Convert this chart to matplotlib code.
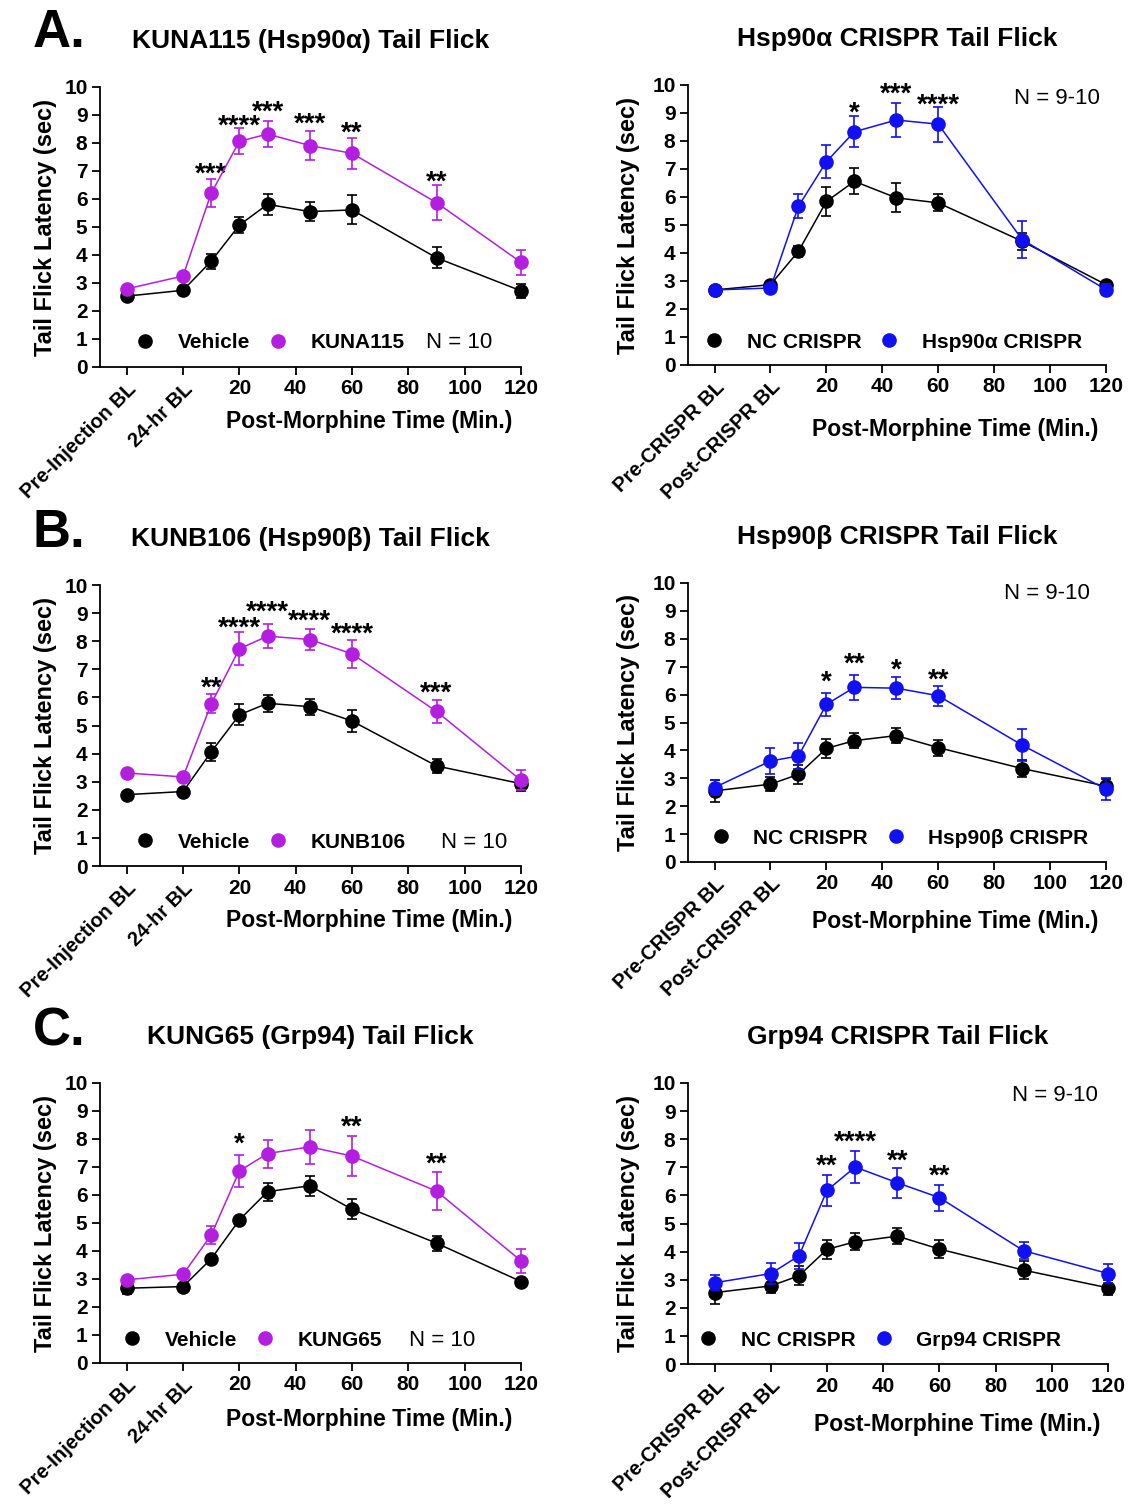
import matplotlib
matplotlib.use('Agg')
import matplotlib.pyplot as plt
from matplotlib.lines import Line2D

plt.rcParams['font.family'] = ['Liberation Sans', 'DejaVu Sans']

# time points: two baselines then post-morphine minutes
times = [-20, 0, 10, 20, 30, 45, 60, 90, 120]

purple = '#B41EE0'
blue = '#1010F2'

# ---- A. KUNA115 ----
a_veh = [2.53, 2.74, 3.78, 5.07, 5.81, 5.55, 5.61, 3.90, 2.72]
a_veh_err = [0.08, 0.08, 0.27, 0.30, 0.38, 0.33, 0.52, 0.37, 0.25]
a_drug = [2.79, 3.25, 6.21, 8.06, 8.32, 7.91, 7.63, 5.87, 3.74]
a_drug_err = [0.08, 0.08, 0.49, 0.46, 0.46, 0.52, 0.55, 0.63, 0.44]
a_stars = ['', '', '***', '****', '***', '***', '**', '**', '']
a_star_y = [0, 0, 7.2, 8.9, 9.4, 9.0, 8.65, 6.9, 0]

# ---- A. Hsp90a CRISPR ----
ac_nc = [2.68, 2.87, 4.06, 5.84, 6.56, 5.97, 5.79, 4.42, 2.87]
ac_nc_err = [0.08, 0.08, 0.20, 0.53, 0.47, 0.52, 0.30, 0.30, 0.10]
ac_ko = [2.68, 2.75, 5.67, 7.26, 8.33, 8.75, 8.60, 4.48, 2.69]
ac_ko_err = [0.08, 0.08, 0.43, 0.58, 0.56, 0.60, 0.63, 0.65, 0.20]
ac_stars = ['', '', '', '', '*', '***', '****', '', '']
ac_star_y = [0, 0, 0, 0, 9.3, 10.0, 9.6, 0, 0]

# ---- B. KUNB106 ----
b_veh = [2.54, 2.65, 4.06, 5.38, 5.79, 5.67, 5.16, 3.56, 2.93]
b_veh_err = [0.08, 0.08, 0.33, 0.37, 0.30, 0.28, 0.40, 0.24, 0.25]
b_drug = [3.31, 3.17, 5.77, 7.73, 8.18, 8.06, 7.55, 5.50, 3.05]
b_drug_err = [0.08, 0.08, 0.34, 0.58, 0.42, 0.39, 0.51, 0.42, 0.35]
b_stars = ['', '', '**', '****', '****', '****', '****', '***', '']
b_star_y = [0, 0, 6.63, 8.78, 9.36, 9.02, 8.57, 6.45, 0]

# ---- B. Hsp90b CRISPR ----
bc_nc = [2.55, 2.79, 3.14, 4.07, 4.35, 4.53, 4.10, 3.35, 2.72]
bc_nc_err = [0.40, 0.25, 0.34, 0.33, 0.28, 0.26, 0.29, 0.32, 0.27]
bc_ko = [2.67, 3.62, 3.80, 5.65, 6.26, 6.23, 5.96, 4.19, 2.61]
bc_ko_err = [0.28, 0.48, 0.47, 0.42, 0.44, 0.40, 0.36, 0.57, 0.40]
bc_stars = ['', '', '', '*', '**', '*', '**', '', '']
bc_star_y = [0, 0, 0, 6.77, 7.39, 7.19, 6.83, 0, 0]

# ---- C. KUNG65 ----
c_veh = [2.67, 2.73, 3.72, 5.11, 6.12, 6.33, 5.49, 4.28, 2.91]
c_veh_err = [0.20, 0.08, 0.10, 0.08, 0.32, 0.36, 0.36, 0.27, 0.08]
c_drug = [2.97, 3.17, 4.57, 6.86, 7.48, 7.72, 7.39, 6.14, 3.65]
c_drug_err = [0.08, 0.10, 0.33, 0.58, 0.50, 0.60, 0.70, 0.67, 0.42]
c_stars = ['', '', '', '*', '', '', '**', '**', '']
c_star_y = [0, 0, 0, 8.14, 0, 0, 8.73, 7.42, 0]

# ---- C. Grp94 CRISPR ----
cc_nc = [2.54, 2.78, 3.14, 4.08, 4.35, 4.55, 4.09, 3.34, 2.71]
cc_nc_err = [0.41, 0.25, 0.34, 0.34, 0.31, 0.28, 0.31, 0.32, 0.27]
cc_ko = [2.89, 3.22, 3.85, 6.18, 7.01, 6.45, 5.92, 4.03, 3.22]
cc_ko_err = [0.26, 0.38, 0.47, 0.55, 0.58, 0.53, 0.46, 0.30, 0.33]
cc_stars = ['', '', '', '**', '****', '**', '**', '', '']
cc_star_y = [0, 0, 0, 7.37, 8.2, 7.52, 7.01, 0, 0]

drug_ticks = ['Pre-Injection BL', '24-hr BL', '20', '40', '60', '80', '100', '120']
crispr_ticks = ['Pre-CRISPR BL', 'Post-CRISPR BL', '20', '40', '60', '80', '100', '120']
tick_pos = [-20, 0, 20, 40, 60, 80, 100, 120]

W, H = 1130, 1507
fig = plt.figure(figsize=(W / 100, H / 100), dpi=100)


def panel(box, title, ctrl, ctrl_err, trt, trt_err, stars, star_y, color, names,
          ticks, leg_xy, ncount, n_xy, n_ha, ylab_x, xlab_y):
    l, t, r, b = box
    ax = fig.add_axes([l / W, 1 - b / H, (r - l) / W, (b - t) / H])
    ax.errorbar(times, ctrl, yerr=ctrl_err, color='black', ecolor='black',
                marker='o', ms=9.5, lw=1.1, elinewidth=1.2, capsize=3.5,
                capthick=1.2, clip_on=False, zorder=3)
    ax.errorbar(times, trt, yerr=trt_err, color=color, ecolor=color,
                marker='o', ms=9.5, lw=1.1, elinewidth=1.2, capsize=3.5,
                capthick=1.2, clip_on=False, zorder=4)
    # asterisk glyph sits high in the line, so drop baseline ~0.58 units
    for x, s, y in zip(times, stars, star_y):
        if s:
            ax.text(x, y - 0.58, s, ha='center', va='baseline',
                    fontsize=20, fontweight='bold')
    ax.set_xlim(-29.5, 120)
    ax.set_ylim(0, 10)
    ax.set_yticks(range(0, 11))
    ax.set_xticks(tick_pos)
    ax.set_xticklabels(ticks)
    for lab in ax.get_xticklabels() + ax.get_yticklabels():
        lab.set_fontweight('bold')
        lab.set_fontsize(15)
    for lab in ax.get_xticklabels()[:2]:
        lab.set_rotation(45)
        lab.set_ha('right')
        lab.set_va('top')
        lab.set_rotation_mode('anchor')
        lab.set_fontsize(14.5)
    ax.tick_params(length=6, width=1.3, pad=3)
    ax.spines['top'].set_visible(False)
    ax.spines['right'].set_visible(False)
    ax.spines['left'].set_linewidth(1.3)
    ax.spines['bottom'].set_linewidth(1.3)
    ax.set_ylabel('Tail Flick Latency (sec)', fontsize=17, fontweight='bold')
    ax.set_xlabel('Post-Morphine Time (Min.)', fontsize=16.5, fontweight='bold')
    ax.yaxis.set_label_coords(ylab_x, 0.5)
    ax.xaxis.set_label_coords(0.64, xlab_y)
    ax.text(0.5, 1.165, title, transform=ax.transAxes, ha='center',
            va='center', fontsize=19, fontweight='bold')
    handles = [Line2D([], [], ls='none', marker='o', ms=9.5, color='black'),
               Line2D([], [], ls='none', marker='o', ms=9.5, color=color)]
    ax.legend(handles, names, loc='center left', bbox_to_anchor=leg_xy,
              ncol=2, frameon=False, handlelength=1.0, handletextpad=1.05,
              columnspacing=0.85, borderpad=0, borderaxespad=0,
              prop={'weight': 'bold', 'size': 15})
    ax.text(n_xy[0], n_xy[1], ncount, transform=ax.transAxes, ha=n_ha,
            va='center', fontsize=16)
    return ax


panel((100, 87, 521, 367), 'KUNA115 (Hsp90α) Tail Flick', a_veh, a_veh_err,
      a_drug, a_drug_err, a_stars, a_star_y, purple, ['Vehicle', 'KUNA115'],
      drug_ticks, (0.083, 0.086), 'N = 10', (0.774, 0.086), 'left',
      -0.102, -0.154)
panel((688, 85, 1106, 365), 'Hsp90α CRISPR Tail Flick', ac_nc, ac_nc_err,
      ac_ko, ac_ko_err, ac_stars, ac_star_y, blue,
      ['NC CRISPR', 'Hsp90α CRISPR'], crispr_ticks, (0.038, 0.082),
      'N = 9-10', (0.986, 0.95), 'right', -0.115, -0.19)

panel((100, 585, 521, 866), 'KUNB106 (Hsp90β) Tail Flick', b_veh, b_veh_err,
      b_drug, b_drug_err, b_stars, b_star_y, purple, ['Vehicle', 'KUNB106'],
      drug_ticks, (0.083, 0.085), 'N = 10', (0.81, 0.085), 'left',
      -0.102, -0.153)
panel((688, 583, 1106, 862), 'Hsp90β CRISPR Tail Flick', bc_nc, bc_nc_err,
      bc_ko, bc_ko_err, bc_stars, bc_star_y, blue,
      ['NC CRISPR', 'Hsp90β CRISPR'], crispr_ticks, (0.053, 0.086),
      'N = 9-10', (0.962, 0.964), 'right', -0.115, -0.171)

panel((100, 1083, 521, 1363), 'KUNG65 (Grp94) Tail Flick', c_veh, c_veh_err,
      c_drug, c_drug_err, c_stars, c_star_y, purple, ['Vehicle', 'KUNG65'],
      drug_ticks, (0.052, 0.082), 'N = 10', (0.734, 0.082), 'left',
      -0.102, -0.161)
panel((688, 1083, 1108, 1364), 'Grp94 CRISPR Tail Flick', cc_nc, cc_nc_err,
      cc_ko, cc_ko_err, cc_stars, cc_star_y, blue,
      ['NC CRISPR', 'Grp94 CRISPR'], crispr_ticks, (0.024, 0.085),
      'N = 9-10', (0.976, 0.957), 'right', -0.115, -0.175)

for letter, y in [('A.', 33), ('B.', 533), ('C.', 1032)]:
    fig.text(33 / W, 1 - y / H, letter, ha='left', va='center', fontsize=38,
             fontweight='bold')

fig.savefig('out.png', dpi=100)
